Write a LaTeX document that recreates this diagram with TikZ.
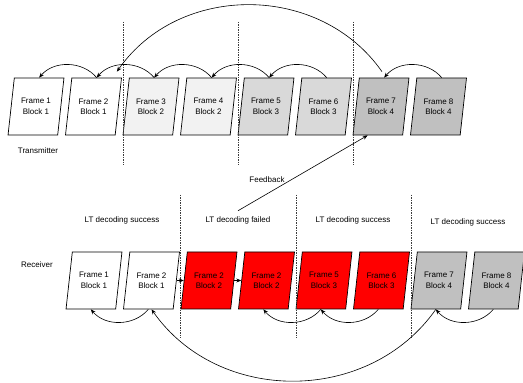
\documentclass[tikz,border=0pt]{standalone}
\usepackage{fontspec}
\setmainfont{Liberation Sans}
\usepackage{tikz}
\usetikzlibrary{calc,arrows.meta,shapes.geometric}
\definecolor{frameLight}{RGB}{242,242,242}
\definecolor{frameMid}{RGB}{217,217,217}
\definecolor{frameDark}{RGB}{192,192,192}
\definecolor{lostRed}{RGB}{255,0,0}
\definecolor{sepgray}{RGB}{60,60,60}

\tikzset{
  framebox/.style={draw=black, line width=0.7pt, trapezium, trapezium left angle=75, trapezium right angle=105,
    trapezium stretches=true, minimum width=56pt, minimum height=57pt, inner sep=0pt, align=center},
  arc/.style={-{Stealth[length=5pt,width=4pt]}, line width=0.6pt},
  sepline/.style={draw=sepgray, line width=0.5pt, dash pattern=on 1.5pt off 1pt}
}

\begin{document}
\begin{tikzpicture}[x=1pt, y=1pt, every node/.style={font=\fontsize{8}{10.5}\selectfont}]
\useasboundingbox (0,0) rectangle (523,383);

% transmitter
\node[framebox, fill=white] (t1) at (36,276.5) {Frame 1\\Block 1};
\node[framebox, fill=white] (t2) at (93.5,276.5) {Frame 2\\Block 1};
\node[framebox, fill=frameLight] (t3) at (151,276.5) {Frame 3\\Block 2};
\node[framebox, fill=frameLight] (t4) at (208.5,276.5) {Frame 4\\Block 2};
\node[framebox, fill=frameMid] (t5) at (266,276.5) {Frame 5\\Block 3};
\node[framebox, fill=frameMid] (t6) at (323.5,276.5) {Frame 6\\Block 3};
\node[framebox, fill=frameDark] (t7) at (381,276.5) {Frame 7\\Block 4};
\node[framebox, fill=frameDark] (t8) at (438.5,276.5) {Frame 8\\Block 4};
\node (tx) at (38,232) {Transmitter};

\draw[sepline] (123,361) -- (123,218);
\draw[sepline] (238,361) -- (238,218);
\draw[sepline] (353,361) -- (353,218);

\draw[arc] (t2.top side) to[bend right=50] (t1.top side);
\draw[arc] (t3.top side) to[bend right=50] (t2.top side);
\draw[arc] (t4.top side) to[bend right=50] (t3.top side);
\draw[arc] (t5.top side) to[bend right=50] (t4.top side);
\draw[arc] (t6.top side) to[bend right=50] (t5.top side);
\draw[arc] (t8.top side) to[bend right=50] (t7.top side);
\draw[arc] ($(t7.north)+(1,6)$) to[out=125, in=55, looseness=1.05] ($(t2.top right corner)+(-5,6)$);

% receiver
\node[framebox, fill=white] (b1) at (94,102.5) {Frame 1\\Block 1};
\node[framebox, fill=white] (b2) at (151.5,102.5) {Frame 2\\Block 1};
\node[framebox, fill=lostRed] (b3) at (209,102.5) {Frame 2\\Block 2};
\node[framebox, fill=lostRed] (b4) at (266.5,102.5) {Frame 2\\Block 2};
\node[framebox, fill=lostRed] (b5) at (324,102.5) {Frame 5\\Block 3};
\node[framebox, fill=lostRed] (b6) at (381.5,102.5) {Frame 6\\Block 3};
\node[framebox, fill=frameDark] (b7) at (439,102.5) {Frame 7\\Block 4};
\node[framebox, fill=frameDark] (b8) at (496.5,102.5) {Frame 8\\Block 4};
\node (rx) at (37,118) {Receiver};

\node (lok1) at (122,163) {LT decoding success};
\node (lfail) at (238,163) {LT decoding failed};
\node (lok2) at (353,163) {LT decoding success};
\node (lok3) at (468,161) {LT decoding success};

\draw[sepline] (180,188) -- (180,45);
\draw[sepline] (296,188) -- (296,45);
\draw[sepline] (411,188) -- (411,45);

\draw[arc] (b2.right side) -- (b3.left side);
\draw[arc] (b3.right side) -- (b4.left side);
\draw[arc] (b2.bottom side) to[bend left=50] (b1.bottom side);
\draw[arc] (b5.bottom side) to[bend left=50] (b4.bottom side);
\draw[arc] (b6.bottom side) to[bend left=50] (b5.bottom side);
\draw[arc] (b8.bottom side) to[bend left=50] (b7.bottom side);
\draw[arc] (b7.bottom side) to[out=235, in=-55, looseness=1.05] (b2.south);

% feedback
\draw[arc] ([yshift=2pt]lfail.north) -- ([xshift=15pt]t7.bottom left corner);
\node (fb) at (267,203) {Feedback};
\end{tikzpicture}
\end{document}
